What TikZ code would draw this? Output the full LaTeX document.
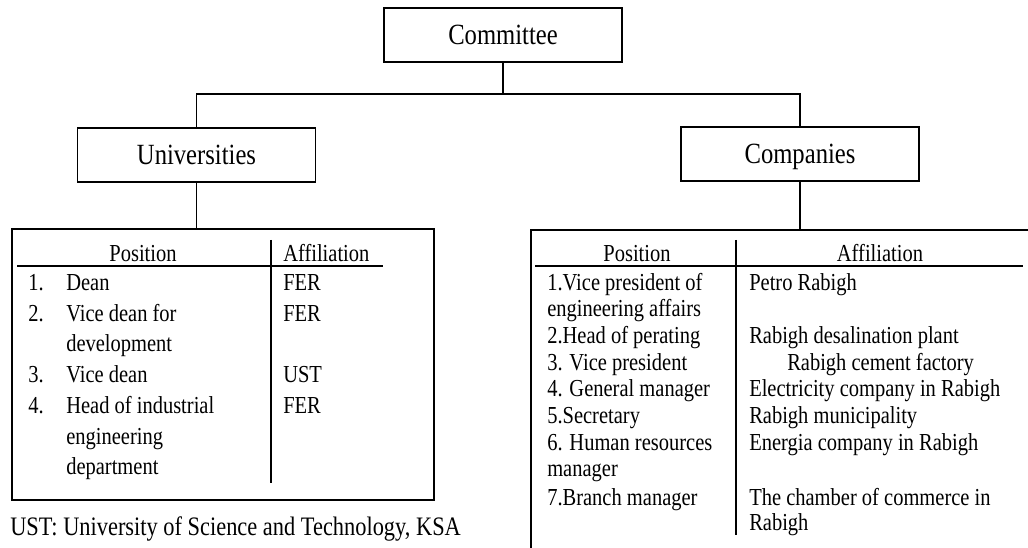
\documentclass[tikz,border=0pt]{standalone}
\usepackage{fontspec}
\setmainfont{Liberation Serif}[FakeStretch=0.84]
\tikzset{
  unitbox/.style={draw, line width=1.3pt, minimum width=178.5pt, minimum height=40.5pt,
    text height=14.5pt, text depth=0pt, font=\fontsize{22}{25}\selectfont},
  tabbox/.style={draw, line width=1.3pt, inner sep=0pt},
  cell/.style={anchor=west, inner sep=0pt, text height=12.1pt, text depth=0pt,
    font=\fontsize{18.3}{20}\selectfont},
  link/.style={line width=0.9pt}
}
\begin{document}
\begin{tikzpicture}[x=0.75pt, y=-0.75pt]
  \useasboundingbox (0,0) rectangle (1028,548);
  \clip (0,0) rectangle (1028,548);
  \node[unitbox] (committee) at (503,35) {Committee};
  \node[unitbox] (univ) at (196.5,155) {Universities};
  \node[unitbox] (comp) at (800,154) {Companies};
  \coordinate (split) at (committee.south |- 0,94);
  \draw[link] (committee.south) -- (split);
  \draw[link] (univ.north) |- (split) -| (comp.north);
  \node[tabbox, minimum width=316.5pt, minimum height=203pt] (unitab) at (223,364.5) {};
  \node[tabbox, minimum width=374pt, minimum height=240pt] (comptab) at (780.5,390) {};
  \draw[link] (univ.south) -- (univ.south |- unitab.north);
  \draw[link] (comp.south) -- (comp.south |- comptab.north);
  % universities table
  \node[cell, anchor=center] (upos) at (143,253) {Position};
  \node[cell] (uaff) at (283,253) {Affiliation};
  \coordinate (urulea) at (17,266);
  \coordinate (uruleb) at (383,266);
  \coordinate (useptop) at (271,240);
  \coordinate (usepbot) at (271,483);
  \draw[link] (urulea) -- (uruleb);
  \draw[link] (useptop) -- (usepbot);
  \node[cell] (un1) at (28,282) {1.};
  \node[cell] (ur1) at (66,282) {Dean};
  \node[cell] (ua1) at (283,282) {FER};
  \node[cell] (un2) at (28,313) {2.};
  \node[cell] (ur2) at (66,313) {Vice dean for};
  \node[cell] (ua2) at (283,313) {FER};
  \node[cell] (ur2b) at (66,343) {development};
  \node[cell] (un3) at (28,374) {3.};
  \node[cell] (ur3) at (66,374) {Vice dean};
  \node[cell] (ua3) at (283,374) {UST};
  \node[cell] (un4) at (28,405) {4.};
  \node[cell] (ur4) at (66,405) {Head of industrial};
  \node[cell] (ua4) at (283,405) {FER};
  \node[cell] (ur4b) at (66,436) {engineering};
  \node[cell] (ur4c) at (66,466) {department};
  \node[cell, text height=13.2pt, font=\fontsize{20}{23}\selectfont] (note) at (10,527)
    {UST: University of Science and Technology, KSA};
  % companies table
  \node[cell, anchor=center] (cpos) at (637,253) {Position};
  \node[cell, anchor=center] (caff) at (880,253) {Affiliation};
  \coordinate (crulea) at (535,266);
  \coordinate (cruleb) at (1023,266);
  \coordinate (cseptop) at (736,240);
  \coordinate (csepbot) at (736,535);
  \draw[link] (crulea) -- (cruleb);
  \draw[link] (cseptop) -- (csepbot);
  \node[cell] (cr1) at (547,282) {1.Vice president of};
  \node[cell] (ca1) at (749,282) {Petro Rabigh};
  \node[cell] (cr1b) at (547,308) {engineering affairs};
  \node[cell] (cr2) at (547,335) {2.Head of perating};
  \node[cell] (ca2) at (749,335) {Rabigh desalination plant};
  \node[cell] (cr3) at (547,362) {3. Vice president};
  \node[cell] (ca3) at (787,362) {Rabigh cement factory};
  \node[cell] (cr4) at (547,388) {4. General manager};
  \node[cell] (ca4) at (749,388) {Electricity company in Rabigh};
  \node[cell] (cr5) at (547,415) {5.Secretary};
  \node[cell] (ca5) at (749,415) {Rabigh municipality};
  \node[cell] (cr6) at (547,442) {6. Human resources};
  \node[cell] (ca6) at (749,442) {Energia company in Rabigh};
  \node[cell] (cr6b) at (547,468) {manager};
  \node[cell] (cr7) at (547,497) {7.Branch manager};
  \node[cell] (ca7) at (749,497) {The chamber of commerce in};
  \node[cell] (ca7b) at (749,522) {Rabigh};
\end{tikzpicture}
\end{document}
